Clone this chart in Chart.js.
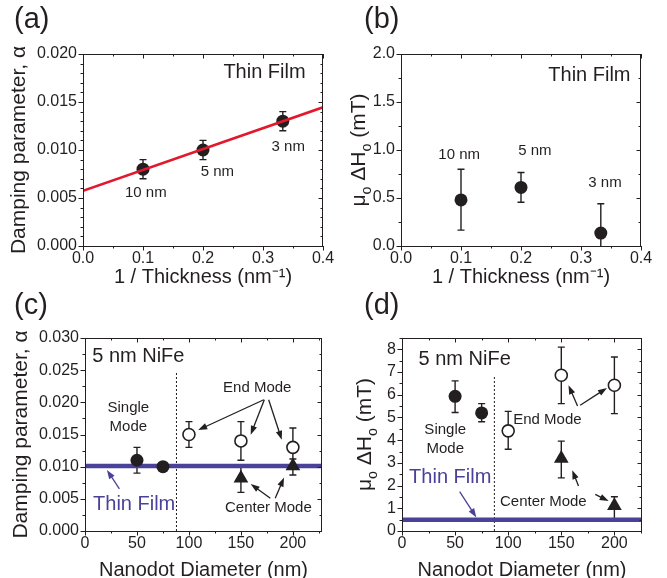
<!DOCTYPE html>
<html>
<head>
<meta charset="utf-8">
<script src="https://cdn.jsdelivr.net/npm/chart.js@4.4.0/dist/chart.umd.min.js"></script>
<style>
  html, body { margin: 0; padding: 0; background: #fff; }
  #wrap { position: relative; width: 667px; height: 578px; overflow: hidden; }
  #wrap canvas { position: absolute; left: 0; top: 0; }
  .lbl { position: absolute; font: 29px "Liberation Sans", Arial, sans-serif; line-height: 1; color: #231f20; }
</style>
</head>
<body>
<div id="wrap">
  <canvas id="chartA" width="667" height="578"></canvas>
  <canvas id="chartB" width="667" height="578"></canvas>
  <canvas id="chartC" width="667" height="578"></canvas>
  <canvas id="chartD" width="667" height="578"></canvas>
  <div class="lbl" style="left:14px;top:4px">(a)</div>
  <div class="lbl" style="left:364px;top:4px">(b)</div>
  <div class="lbl" style="left:14px;top:290px">(c)</div>
  <div class="lbl" style="left:364px;top:290px">(d)</div>
</div>
<script>
// ---- (a)/(b) thin films vs 1/thickness ----
const thickLabels = ['10 nm', '5 nm', '3 nm'];
const invThickness = [0.1, 0.2, 0.333];
const alphaFilm = [0.0080, 0.0100, 0.0130];
const alphaFilmLo = [0.0070, 0.0090, 0.0120];
const alphaFilmHi = [0.0090, 0.0110, 0.0140];
const fitX = [0, 0.4];
const fitAlpha = [0.00575, 0.01445];

const dHFilm = [0.48, 0.61, 0.135];
const dHFilmLo = [0.165, 0.455, -0.05];
const dHFilmHi = [0.80, 0.765, 0.44];

// ---- (c)/(d) 5 nm NiFe nanodots vs diameter ----
const singleDiam = [50, 75];
const endDiam = [100, 150, 200];
const centerDiam = [150, 200];

const alphaSingle = [0.0110, 0.0100];
const alphaSingleLo = [0.0090, 0.0100];
const alphaSingleHi = [0.0130, 0.0100];
const alphaEnd = [0.0150, 0.0140, 0.0130];
const alphaEndLo = [0.0130, 0.0110, 0.0100];
const alphaEndHi = [0.0170, 0.0170, 0.0160];
const alphaCenter = [0.0082, 0.0101];
const alphaCenterLo = [0.0060, 0.0087];
const alphaCenterHi = [0.0100, 0.0112];
const alphaThinFilm = 0.0101;

const dHSingle = [5.93, 5.20];
const dHSingleLo = [5.22, 4.81];
const dHSingleHi = [6.61, 5.61];
const dHEnd = [4.41, 6.86, 6.42];
const dHEndLo = [3.60, 5.61, 5.17];
const dHEndHi = [5.27, 8.10, 7.66];
const dHCenter = [3.19, 1.11];
const dHCenterLo = [2.34, 0.50];
const dHCenterHi = [3.96, 1.51];
const dHThinFilm = 0.5;

const modeBoundaryC = 88;
const modeBoundaryD = 87;

const FONT = '"Liberation Sans", Arial, Helvetica, sans-serif';
const INK = '#231f20';
const FILM_BLUE = '#4a4198';
const FIT_RED = '#e2182d';

function pts(xs, ys) {
    return xs.map((x, i) => ({ x: x, y: ys[i] }));
}

function filledDots(xs, ys, r) {
    return { data: pts(xs, ys), pointStyle: 'circle', pointRadius: r, backgroundColor: INK, borderWidth: 0, order: 1 };
}
function openDots(xs, ys) {
    return { data: pts(xs, ys), pointStyle: 'circle', pointRadius: 6, backgroundColor: '#fff', borderColor: INK, borderWidth: 1.6, order: 1 };
}
function triangles(xs, ys) {
    return { data: pts(xs, ys), pointStyle: 'triangle', pointRadius: 8.5, backgroundColor: INK, borderWidth: 0, order: 1 };
}
function straight(xs, ys, color, width, order, dash) {
    return { data: pts(xs, ys), showLine: true, pointRadius: 0, borderColor: color, borderWidth: width, borderDash: dash || [], fill: false, order: order };
}

function drawArrow(ctx, x1, y1, x2, y2) {
    const a = Math.atan2(y2 - y1, x2 - x1);
    const head = 9, half = 3.2;
    ctx.beginPath();
    ctx.moveTo(x1, y1);
    ctx.lineTo(x2 - head * 0.8 * Math.cos(a), y2 - head * 0.8 * Math.sin(a));
    ctx.stroke();
    ctx.beginPath();
    ctx.moveTo(x2, y2);
    ctx.lineTo(x2 - head * Math.cos(a) + half * Math.sin(a), y2 - head * Math.sin(a) - half * Math.cos(a));
    ctx.lineTo(x2 - head * Math.cos(a) - half * Math.sin(a), y2 - head * Math.sin(a) + half * Math.cos(a));
    ctx.closePath();
    ctx.fill();
}

// text with sub/superscripts, centred on (cx, cy), optionally rotated
function richText(ctx, parts, size, cx, cy, rot) {
    ctx.save();
    ctx.translate(cx, cy);
    if (rot) ctx.rotate(rot);
    ctx.fillStyle = INK;
    ctx.textBaseline = 'alphabetic';
    ctx.textAlign = 'left';
    let w = 0;
    parts.forEach(p => {
        ctx.font = (p.sub ? size * 0.68 : size) + 'px ' + FONT;
        p.w = ctx.measureText(p.t).width;
        w += p.w;
    });
    let x = -w / 2;
    const base = size * 0.36;
    parts.forEach(p => {
        ctx.font = (p.sub ? size * 0.68 : size) + 'px ' + FONT;
        ctx.fillText(p.t, x, base + (p.sub ? size * 0.3 : 0));
        x += p.w;
    });
    ctx.restore();
}

function makePanel(id, spec) {
    const area = spec.area;
    const deco = {
        id: 'deco',
        beforeDatasetsDraw(chart) {
            const { ctx, chartArea: ca, scales: { x, y } } = chart;
            ctx.save();
            ctx.beginPath();
            ctx.rect(ca.left, ca.top, ca.right - ca.left, ca.bottom - ca.top);
            ctx.clip();
            ctx.strokeStyle = INK;
            ctx.lineWidth = 1.4;
            spec.errors.forEach(e => {
                e.xs.forEach((xv, i) => {
                    const px = x.getPixelForValue(xv);
                    const lo = y.getPixelForValue(e.lo[i]);
                    const hi = y.getPixelForValue(e.hi[i]);
                    ctx.beginPath();
                    ctx.moveTo(px, lo); ctx.lineTo(px, hi);
                    ctx.moveTo(px - 3.5, lo); ctx.lineTo(px + 3.5, lo);
                    ctx.moveTo(px - 3.5, hi); ctx.lineTo(px + 3.5, hi);
                    ctx.stroke();
                });
            });
            ctx.restore();
        },
        afterDatasetsDraw(chart) {
            const { ctx, scales: { x, y } } = chart;
            ctx.save();
            ctx.textAlign = 'center';
            ctx.textBaseline = 'middle';
            spec.notes.forEach(n => {
                ctx.font = n.size + 'px ' + FONT;
                ctx.fillStyle = n.color || INK;
                ctx.fillText(n.text, x.getPixelForValue(n.x), y.getPixelForValue(n.y));
            });
            ctx.lineWidth = 1.3;
            spec.arrows.forEach(a => {
                ctx.strokeStyle = a.color || INK;
                ctx.fillStyle = a.color || INK;
                drawArrow(ctx, x.getPixelForValue(a.x1), y.getPixelForValue(a.y1),
                    x.getPixelForValue(a.x2), y.getPixelForValue(a.y2));
            });
            ctx.restore();
        },
        afterDraw(chart) {
            const { ctx, chartArea: ca, scales: { x, y } } = chart;
            ctx.save();
            ctx.strokeStyle = INK;
            ctx.lineWidth = 1;
            ctx.strokeRect(ca.left + 0.5, ca.top + 0.5, ca.right - ca.left - 1, ca.bottom - ca.top);
            ctx.beginPath();
            const xs = spec.xTicks, ys = spec.yTicks;
            for (let v = x.min; v <= x.max + 1e-9; v += xs[1]) {
                const major = Math.abs(v / xs[0] - Math.round(v / xs[0])) < 1e-6;
                const len = major ? 4.5 : 2.5;
                const px = Math.round(x.getPixelForValue(v)) + 0.5;
                ctx.moveTo(px, ca.bottom); ctx.lineTo(px, ca.bottom + len);
                ctx.moveTo(px, ca.top); ctx.lineTo(px, ca.top + len);
            }
            for (let v = y.min; v <= y.max + 1e-9; v += ys[1]) {
                const major = Math.abs(v / ys[0] - Math.round(v / ys[0])) < 1e-6;
                const len = major ? 4.5 : 2.5;
                const py = Math.round(y.getPixelForValue(v)) + 0.5;
                ctx.moveTo(ca.left - len, py); ctx.lineTo(ca.left, py);
                ctx.moveTo(ca.right - len, py); ctx.lineTo(ca.right, py);
            }
            ctx.stroke();
            ctx.restore();
            if (spec.yRich) {
                richText(ctx, spec.yRich, 21, spec.yRichX, (ca.top + ca.bottom) / 2, -Math.PI / 2);
            }
        }
    };

    const yw = spec.yw, xh = spec.xh;
    const tickFont = { family: FONT, size: 16 };
    return new Chart(document.getElementById(id), {
        type: 'scatter',
        data: { datasets: spec.datasets },
        options: {
            responsive: false,
            animation: false,
            events: [],
            layout: { padding: { left: area.l - yw, top: area.t, right: 667 - area.r, bottom: 578 - area.b - xh } },
            plugins: { legend: { display: false }, tooltip: { enabled: false } },
            scales: {
                x: {
                    type: 'linear', min: spec.xRange[0], max: spec.xRange[1],
                    grid: { display: false, drawTicks: false }, border: { display: false },
                    ticks: { stepSize: spec.xTicks[0], includeBounds: false, color: INK, font: tickFont, padding: 3,
                        maxRotation: 0, autoSkip: false, callback: spec.xFmt },
                    title: { display: true, text: spec.xTitle, color: INK, padding: 0,
                        font: { family: FONT, size: 20, lineHeight: 0.8 } },
                    afterFit: s => { s.height = xh; }
                },
                y: {
                    type: 'linear', min: spec.yRange[0], max: spec.yRange[1],
                    grid: { display: false, drawTicks: false }, border: { display: false },
                    ticks: { stepSize: spec.yTicks[0], includeBounds: false, color: INK, font: tickFont, padding: 6,
                        autoSkip: false, callback: spec.yFmt },
                    title: { display: !!spec.yTitle, text: spec.yTitle || '', color: INK, padding: 0,
                        font: { family: FONT, size: 21, lineHeight: 1.2 } },
                    afterFit: s => { s.width = yw; }
                }
            }
        },
        plugins: [deco]
    });
}

const thicknessTitle = '1 / Thickness (nm\u207B\u00B9)';
const diamTitle = 'Nanodot Diameter (nm)';
const dampTitle = 'Damping parameter, \u03B1';
const dHParts = [{ t: '\u03BC' }, { t: 'o', sub: true }, { t: ' \u0394H' }, { t: 'o', sub: true }, { t: ' (mT)' }];

// (a)
makePanel('chartA', {
    area: { l: 83, t: 54, r: 323, b: 246 }, yw: 76, xh: 39,
    xRange: [0, 0.4], yRange: [0, 0.02], xTicks: [0.1, 0.05], yTicks: [0.005, 0.001],
    xFmt: v => v.toFixed(1), yFmt: v => v.toFixed(3),
    xTitle: thicknessTitle, yTitle: dampTitle,
    datasets: [
        straight(fitX, fitAlpha, FIT_RED, 2.6, 0),
        filledDots(invThickness, alphaFilm, 6.5)
    ],
    errors: [{ xs: invThickness, lo: alphaFilmLo, hi: alphaFilmHi }],
    notes: [
        { text: 'Thin Film', x: 0.3025, y: 0.0181, size: 20 },
        { text: thickLabels[0], x: 0.1047, y: 0.00554, size: 15 },
        { text: thickLabels[1], x: 0.224, y: 0.0077, size: 15 },
        { text: thickLabels[2], x: 0.342, y: 0.0103, size: 15 }
    ],
    arrows: []
});

// (b)
makePanel('chartB', {
    area: { l: 401, t: 54, r: 641, b: 246 }, yw: 60, xh: 39,
    xRange: [0, 0.4], yRange: [0, 2], xTicks: [0.1, 0.05], yTicks: [0.5, 0.25],
    xFmt: v => v.toFixed(1), yFmt: v => v.toFixed(1),
    xTitle: thicknessTitle, yRich: dHParts, yRichX: 357,
    datasets: [filledDots(invThickness, dHFilm, 6.5)],
    errors: [{ xs: invThickness, lo: dHFilmLo, hi: dHFilmHi }],
    notes: [
        { text: 'Thin Film', x: 0.314, y: 1.775, size: 20 },
        { text: thickLabels[0], x: 0.097, y: 0.945, size: 15 },
        { text: thickLabels[1], x: 0.223, y: 0.99, size: 15 },
        { text: thickLabels[2], x: 0.34, y: 0.657, size: 15 }
    ],
    arrows: []
});

// (c)
makePanel('chartC', {
    area: { l: 85, t: 338, r: 322, b: 531 }, yw: 76, xh: 47,
    xRange: [0, 228], yRange: [0, 0.03], xTicks: [50, 25], yTicks: [0.005, 0.0025],
    xFmt: v => String(Math.round(v)), yFmt: v => v.toFixed(3),
    xTitle: diamTitle, yTitle: dampTitle,
    datasets: [
        filledDots(singleDiam, alphaSingle, 6.5),
        openDots(endDiam, alphaEnd),
        triangles(centerDiam, alphaCenter),
        straight([0, 228], [alphaThinFilm, alphaThinFilm], FILM_BLUE, 4.5, 5),
        straight([modeBoundaryC, modeBoundaryC], [0, 0.0248], INK, 1, 6, [2, 2])
    ],
    errors: [
        { xs: singleDiam, lo: alphaSingleLo, hi: alphaSingleHi },
        { xs: endDiam, lo: alphaEndLo, hi: alphaEndHi },
        { xs: centerDiam, lo: alphaCenterLo, hi: alphaCenterHi }
    ],
    notes: [
        { text: '5 nm NiFe', x: 51.3, y: 0.0272, size: 20 },
        { text: 'Single', x: 41.7, y: 0.0191, size: 15 },
        { text: 'Mode', x: 41.7, y: 0.01624, size: 15 },
        { text: 'End Mode', x: 165.7, y: 0.0222, size: 15 },
        { text: 'Center Mode', x: 176.4, y: 0.00363, size: 15 },
        { text: 'Thin Film', x: 47.3, y: 0.00405, size: 20, color: FILM_BLUE }
    ],
    arrows: [
        { x1: 172, y1: 0.0204, x2: 108.9, y2: 0.0157 },
        { x1: 172.5, y1: 0.0204, x2: 159.4, y2: 0.01495 },
        { x1: 176.7, y1: 0.0204, x2: 189.3, y2: 0.01417 },
        { x1: 178.3, y1: 0.00509, x2: 159.4, y2: 0.00732 },
        { x1: 183, y1: 0.00509, x2: 191.5, y2: 0.0083 },
        { x1: 33.1, y1: 0.00654, x2: 21.1, y2: 0.0095, color: FILM_BLUE }
    ]
});

// (d)
makePanel('chartD', {
    area: { l: 402, t: 338, r: 642, b: 531 }, yw: 60, xh: 47,
    xRange: [0, 226], yRange: [0, 8.5], xTicks: [50, 25], yTicks: [1, 0.5],
    xFmt: v => String(Math.round(v)), yFmt: v => String(Math.round(v)),
    xTitle: diamTitle, yRich: dHParts, yRichX: 363,
    datasets: [
        filledDots(singleDiam, dHSingle, 6.5),
        openDots(endDiam, dHEnd),
        triangles(centerDiam, dHCenter),
        straight([0, 226], [dHThinFilm, dHThinFilm], FILM_BLUE, 4.5, 5),
        straight([modeBoundaryD, modeBoundaryD], [0, 6.83], INK, 1, 6, [2, 2])
    ],
    errors: [
        { xs: singleDiam, lo: dHSingleLo, hi: dHSingleHi },
        { xs: endDiam, lo: dHEndLo, hi: dHEndHi },
        { xs: centerDiam, lo: dHCenterLo, hi: dHCenterHi }
    ],
    notes: [
        { text: '5 nm NiFe', x: 59, y: 7.56, size: 20 },
        { text: 'Single', x: 40.7, y: 4.44, size: 15 },
        { text: 'Mode', x: 40.7, y: 3.63, size: 15 },
        { text: 'End Mode', x: 136.9, y: 4.88, size: 15 },
        { text: 'Center Mode', x: 133.1, y: 1.29, size: 15 },
        { text: 'Thin Film', x: 45.4, y: 2.34, size: 20, color: FILM_BLUE }
    ],
    arrows: [
        { x1: 165.3, y1: 5.51, x2: 156.8, y2: 6.42 },
        { x1: 167.8, y1: 5.54, x2: 193, y2: 6.3 },
        { x1: 166.2, y1: 1.98, x2: 160.3, y2: 2.68 },
        { x1: 182, y1: 1.61, x2: 194.6, y2: 1.32 },
        { x1: 54.3, y1: 1.73, x2: 70, y2: 0.6, color: FILM_BLUE }
    ]
});
</script>
</body>
</html>
